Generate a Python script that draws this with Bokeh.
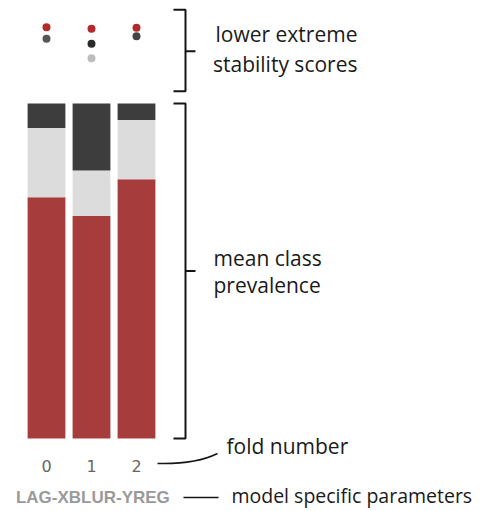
from bokeh.plotting import figure
from bokeh.models import Range1d, ColumnDataSource, Label
from bokeh.core.properties import value
from bokeh.embed import file_html
from bokeh.resources import INLINE
import numpy as np

# ---- data ----
folds = ["0", "1", "2"]
fold_x = [0, 1, 2]
# mean class prevalence (stacked fractions)
prev_red = [0.720, 0.664, 0.774]
prev_light = [0.207, 0.136, 0.177]
prev_dark = [0.073, 0.200, 0.049]
# lower extreme stability scores
score_red = [0.973, 0.957, 0.967]
score_dark = [0.857, 0.807, 0.883]
score_light = [np.nan, 0.663, np.nan]
model_name = "LAG-XBLUR-YREG"

RED = "#a63c3c"
LIGHT = "#dcdcdc"
DARK = "#3d3d3d"

p = figure(width=490, height=510, output_backend="svg", toolbar_location=None,
           x_axis_location=None, y_axis_location=None, min_border=0,
           x_range=Range1d(-1.0222, 9.8667), y_range=Range1d(-0.2149, 1.3075))
p.extra_y_ranges = {"score": Range1d(-3.86, 1.24)}
p.grid.visible = False
p.outline_line_color = None

src = ColumnDataSource(dict(x=fold_x, red=prev_red, light=prev_light, dark=prev_dark))
p.vbar_stack(["red", "light", "dark"], x="x", width=0.84, source=src,
             color=[RED, LIGHT, DARK], line_color=None)

# stability score dots
p.scatter(fold_x, score_light, y_range_name="score", size=8, color="#bdbdbd", line_color=None)
p.scatter(fold_x, score_red, y_range_name="score", size=8, color="#b22a2a", line_color=None)
p.scatter(fold_x, score_dark, y_range_name="score", size=8,
          color=["#555555", "#2b2b2b", "#444444"], line_color=None)

# fold numbers
p.text(fold_x, [-0.0806] * 3, text=folds, text_align="center", text_baseline="middle",
       text_font=value("DejaVu Sans"), text_font_size="16px", text_color="#666666")
p.add_layout(Label(x=1.03, y=-0.176, text=model_name, text_align="center",
                   text_baseline="middle", text_font="Liberation Sans",
                   text_font_style="bold", text_font_size="17px", text_color="#9a9a9a"))

INK = "#151515"
BX, BL, BR = 3.089, 2.822, 3.311
# brace around dots (score range)
p.line([BL, BX, BX, BL], [1.147, 1.147, 0.333, 0.333], y_range_name="score",
       line_color=INK, line_width=2)
p.line([BX, BR], [0.733, 0.733], y_range_name="score", line_color=INK, line_width=2)
# brace around bars
p.line([BL, BX, BX, BL], [1.0, 1.0, 0.0, 0.0], line_color=INK, line_width=2)
p.line([BX, BR], [0.5, 0.5], line_color=INK, line_width=2)

# connectors
p.quadratic(x0=[2.467], y0=[-0.0746], x1=[3.8], y1=[-0.0448], cx=[3.311], cy=[-0.0776],
            line_color=INK, line_width=1.5)
p.line([3.044, 3.822], [-0.176, -0.176], line_color=INK, line_width=1.5)

HF = "Open Sans"
def note(x, y, t, yr="default", size="21px"):
    p.text([x], [y], text=[t], y_range_name=yr, text_align="left", text_baseline="middle",
           text_font=value(HF), text_font_size=size, text_color="#1a1a1a")

note(3.756, 0.91, "lower extreme", "score")
note(3.70, 0.61, "stability scores", "score")
note(3.711, 0.540, "mean class")
note(3.711, 0.457, "prevalence")
note(4.0, -0.0209, "fold number")
note(4.11, -0.170, "model specific parameters", size="19.5px")

open("out.html", "w").write(file_html(p, INLINE))
